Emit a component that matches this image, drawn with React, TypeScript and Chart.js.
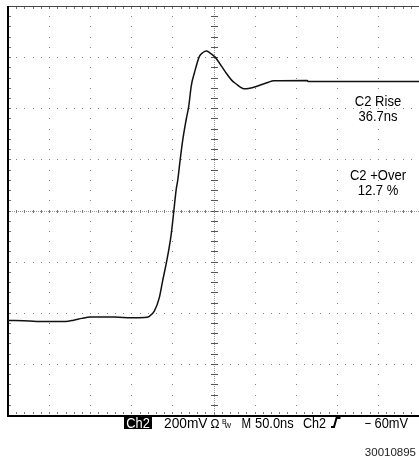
import React, { useEffect, useRef } from "react";
import { Chart, registerables } from "chart.js";

Chart.register(...registerables);

// Time (ns, 0 = screen centre, 50 ns/div) and voltage (mV, 0 = centre line, 200 mV/div)
const timeNs = [
  -250, -224, -212, -180, -170, -160, -150, -120, -100, -84, -78, -72, -66, -62, -57,
  -51.5, -48.3, -45.4, -43.4, -40.5, -37.3, -33.2, -30.1, -27.1, -23.1, -17, -12.8, -8.9,
  -4.9, 2, 9.7, 16, 22, 28, 33, 37, 44, 51, 58, 67, 73, 114, 115, 250,
];
const voltageMv = [
  -430, -432, -434, -434, -429, -422, -417, -417, -420, -419, -414, -394, -342, -277, -199,
  -94, -3, 82, 121, 200, 278, 356, 408, 487, 540, 604, 618, 624,
  618, 600, 565, 535, 510, 494, 482, 476, 478, 484, 492, 502, 508, 509, 505, 505,
];

const X_MIN = -250;
const X_MAX = 250;
const X_DIV = 50;
const Y_MIN = -800;
const Y_MAX = 800;
const Y_DIV = 200;

const measureLabels = ["C2 Rise", "36.7ns", "C2 +Over", "12.7 %"];
const statusLabels = ["Ch2", "200mV", "\u03A9", "B", "W", "M", "50.0ns", "Ch2", "\u2212", "60mV"];
const figureId = "30010895";

const FONT = '"Liberation Sans", Arial, sans-serif';

function txt(
  ctx: CanvasRenderingContext2D,
  s: string,
  x: number,
  y: number,
  size: number,
  sx: number,
  align: CanvasTextAlign = "left",
  color = "#000"
) {
  ctx.save();
  ctx.font = `${size}px ${FONT}`;
  ctx.fillStyle = color;
  ctx.textBaseline = "alphabetic";
  ctx.textAlign = align;
  ctx.translate(x, y);
  ctx.scale(sx, 1);
  ctx.fillText(s, 0, 0);
  ctx.restore();
}

const scopeGrid = {
  id: "scopeGrid",
  beforeDatasetsDraw(chart: any) {
    const { ctx, chartArea } = chart;
    const { left, right, top, bottom } = chartArea;
    const xs = chart.scales.x;
    const ys = chart.scales.y;
    const xMinor: number[] = [];
    for (let t = X_MIN; t <= X_MAX + 0.001; t += X_DIV / 5) xMinor.push(t);
    const yMinor: number[] = [];
    for (let v = Y_MIN; v <= Y_MAX + 0.001; v += Y_DIV / 5) yMinor.push(v);
    const xMajor: number[] = [];
    for (let t = X_MIN + X_DIV; t < X_MAX; t += X_DIV) xMajor.push(t);
    const yMajor: number[] = [];
    for (let v = Y_MIN + Y_DIV; v < Y_MAX; v += Y_DIV) yMajor.push(v);

    ctx.save();
    // dotted major grid
    ctx.fillStyle = "#858585";
    for (const t of xMajor) {
      if (t === 0) continue;
      const px = Math.round(xs.getPixelForValue(t));
      for (const v of yMinor) {
        const py = Math.round(ys.getPixelForValue(v));
        ctx.fillRect(px, py, 1, 1);
      }
    }
    for (const v of yMajor) {
      if (v === 0) continue;
      const py = Math.round(ys.getPixelForValue(v));
      for (const t of xMinor) {
        const px = Math.round(xs.getPixelForValue(t));
        ctx.fillRect(px, py, 1, 1);
      }
    }
    // centre cross: fine dotted lines + ticks
    const cx = Math.round(xs.getPixelForValue(0));
    const cy = Math.round(ys.getPixelForValue(0));
    ctx.fillStyle = "#999";
    for (let py = top; py < bottom; py += 2) ctx.fillRect(cx, py, 1, 1);
    for (let px = left; px < right; px += 2) ctx.fillRect(px, cy, 1, 1);
    ctx.fillStyle = "#555";
    for (const v of yMinor) {
      const py = Math.round(ys.getPixelForValue(v));
      ctx.fillRect(cx - 3, py, 7, 1);
    }
    ctx.fillStyle = "#7a7a7a";
    for (const t of xMinor) {
      const px = Math.round(xs.getPixelForValue(t));
      ctx.fillRect(px, cy - 1, 1, 3);
    }
    // edge ticks
    ctx.fillStyle = "#777";
    for (const t of xMinor) {
      const px = Math.round(xs.getPixelForValue(t));
      ctx.fillRect(px, top + 1, 1, 2);
      ctx.fillRect(px, bottom - 3, 1, 2);
    }
    for (const v of yMinor) {
      const py = Math.round(ys.getPixelForValue(v));
      ctx.fillRect(left, py, 3, 1);
    }
    // borders
    ctx.fillStyle = "#444";
    ctx.fillRect(left, top, right - left, 1);
    ctx.fillStyle = "#000";
    ctx.fillRect(left - 1, top, 2, bottom - top + 1);
    ctx.fillRect(left - 1, bottom, right - left + 1, 2);
    ctx.restore();
  },
  afterDraw(chart: any) {
    const ctx: CanvasRenderingContext2D = chart.ctx;
    ctx.save();
    // measurement readouts
    const mx = 378;
    txt(ctx, measureLabels[0], mx, 106, 14, 0.93, "center");
    txt(ctx, measureLabels[1], mx, 121, 14, 0.93, "center");
    txt(ctx, measureLabels[2], mx, 180, 14, 0.93, "center");
    txt(ctx, measureLabels[3], mx, 195, 14, 0.93, "center");

    // status line
    const by = 427.5;
    ctx.fillStyle = "#000";
    ctx.fillRect(124, 416, 28, 13);
    txt(ctx, statusLabels[0], 138, by, 14, 0.92, "center", "#fff");
    txt(ctx, statusLabels[1], 164, by, 14, 0.98);
    txt(ctx, statusLabels[2], 210.5, by, 13, 0.92);
    txt(ctx, statusLabels[3], 222, by - 4, 7, 1);
    txt(ctx, statusLabels[4], 224.5, by, 7, 1);
    txt(ctx, statusLabels[5], 241.5, by, 14, 0.82);
    txt(ctx, statusLabels[6], 255, by, 14, 0.92);
    txt(ctx, statusLabels[7], 303, by, 14, 0.9);
    // rising-edge trigger icon
    ctx.strokeStyle = "#000";
    ctx.lineWidth = 2;
    ctx.beginPath();
    ctx.moveTo(331, by - 0.5);
    ctx.lineTo(334, by - 0.5);
    ctx.lineTo(336.5, by - 9.5);
    ctx.lineTo(340.5, by - 9.5);
    ctx.stroke();
    txt(ctx, statusLabels[8], 364.5, by, 14, 0.8);
    txt(ctx, statusLabels[9], 374.5, by, 14, 0.92);

    txt(ctx, figureId, 416, 456, 11.5, 1, "right", "#222");
    ctx.restore();
  },
};

export default function App() {
  const ref = useRef<HTMLCanvasElement | null>(null);
  useEffect(() => {
    if (!ref.current) return;
    const data = timeNs.map((t, i) => ({ x: t, y: voltageMv[i] }));
    const chart = new Chart(ref.current, {
      type: "line",
      data: {
        datasets: [
          {
            data,
            borderColor: "#111",
            borderWidth: 1.5,
            pointRadius: 0,
            cubicInterpolationMode: "monotone",
            fill: false,
          },
        ],
      },
      options: {
        responsive: false,
        animation: false,
        events: [],
        layout: { padding: { left: 8, top: 6, right: 0, bottom: 47 } },
        plugins: { legend: { display: false }, tooltip: { enabled: false } },
        scales: {
          x: { type: "linear", min: X_MIN, max: X_MAX, display: false },
          y: { type: "linear", min: Y_MIN, max: Y_MAX, display: false },
        },
      },
      plugins: [scopeGrid],
    });
    return () => chart.destroy();
  }, []);
  return (
    <div style={{ position: "fixed", left: 0, top: 0, width: 419, height: 462, background: "#fff" }}>
      <canvas ref={ref} width={419} height={462} style={{ display: "block" }} />
    </div>
  );
}
